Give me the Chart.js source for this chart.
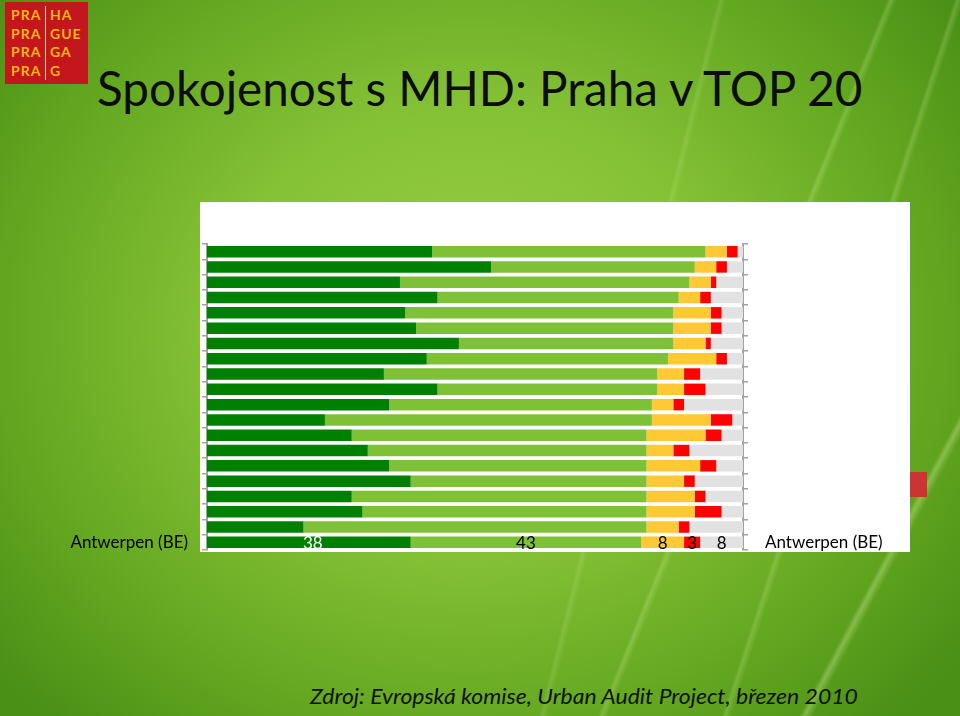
<!DOCTYPE html>
<html>
<head>
<meta charset="utf-8">
<script src="https://cdn.jsdelivr.net/npm/chart.js@4"></script>
<style>
  html, body { margin: 0; padding: 0; }
  body {
    width: 960px; height: 716px; position: relative; overflow: hidden;
    font-family: Lato, sans-serif;
    background:
      linear-gradient(112deg, rgba(255,255,255,0) 71%, rgba(225,255,170,0.22) 71.3%, rgba(255,255,255,0) 71.8%),
      linear-gradient(108deg, rgba(255,255,255,0) 80%, rgba(225,255,170,0.20) 80.3%, rgba(255,255,255,0) 80.8%),
      linear-gradient(118deg, rgba(255,255,255,0) 88%, rgba(235,255,180,0.30) 88.4%, rgba(255,255,255,0) 89%),
      linear-gradient(104deg, rgba(255,255,255,0) 63%, rgba(225,255,170,0.14) 63.3%, rgba(255,255,255,0) 63.8%),
      radial-gradient(ellipse 620px 540px at 470px 330px, #9acd45 0%, #86c236 40%, #62a620 75%, #4a8f16 100%);
  }
  #logo {
    position: absolute; left: 5px; top: 2px; width: 83px; height: 82px;
    background: #c3161d; color: #f8b617;
    font-weight: 700; font-size: 14px; letter-spacing: 1px; line-height: 18.5px;
  }
  #logo .col { position: absolute; top: 4px; }
  #logo .l { left: 6px; }
  #logo .r { left: 40px; padding-left: 4px; border-left: 1px solid #f3d9a0; }
  #title {
    position: absolute; left: 97px; top: 64px; font-size: 48px; line-height: 1;
    color: #0d0d0d; white-space: nowrap; transform-origin: left top;
  }
  #panel {
    position: absolute; left: 200px; top: 202px; width: 710px; height: 350px; background: #fff;
  }
  #deco {
    position: absolute; left: 910px; top: 472px; width: 17px; height: 25px; background: #cc3333;
  }
  #source {
    position: absolute; left: 310px; top: 685px; font-size: 22px; line-height: 1; font-style: italic;
    color: #111; white-space: nowrap; transform-origin: left top;
  }
  #chart { position: absolute; left: 0; top: 0; }
</style>
</head>
<body>
<div id="logo">
  <div class="col l">PRA<br>PRA<br>PRA<br>PRA</div>
  <div class="col r">HA<br>GUE<br>GA<br>G</div>
</div>
<div id="title">Spokojenost s MHD: Praha v TOP 20</div>
<div id="panel"></div>
<div id="deco"></div>
<div id="source">Zdroj: Evropská komise, Urban Audit Project, březen 2010</div>
<canvas id="chart" width="960" height="716"></canvas>
<script>
// only the last city label is legible in the picture
const cities = ["", "", "", "", "", "", "", "", "", "", "", "", "", "", "", "", "", "", "", "Antwerpen (BE)"];
const veryS   = [42, 53, 36, 43, 37, 39, 47, 41, 33, 43, 34, 22, 27, 30, 34, 38, 27, 29, 18, 38];
const ratherS = [51, 38, 54, 45, 50, 48, 40, 45, 51, 41, 49, 61, 55, 52, 48, 44, 55, 53, 64, 43];
const ratherN = [4, 4, 4, 4, 7, 7, 6, 9, 5, 5, 4, 11, 11, 5, 10, 7, 9, 9, 6, 8];
const veryN   = [2, 2, 1, 2, 2, 2, 1, 2, 3, 4, 2, 4, 3, 3, 3, 2, 2, 5, 2, 3];
const noAnswer = [1, 3, 5, 6, 4, 4, 6, 3, 8, 7, 11, 2, 4, 10, 5, 9, 7, 4, 10, 8];
const labelRow = 19;

function fitWidth(id, w) {
    const el = document.getElementById(id);
    el.style.transform = `scaleX(${w / el.offsetWidth})`;
}
fitWidth("title", 765);
fitWidth("source", 548);

const valueLabels = {
    id: 'valueLabels',
    afterDatasetsDraw(chart) {
        const ctx = chart.ctx;
        ctx.save();
        ctx.font = '17px Lato';
        ctx.textAlign = 'center';
        ctx.textBaseline = 'middle';
        chart.data.datasets.forEach((ds, i) => {
            const bar = chart.getDatasetMeta(i).data[labelRow];
            ctx.fillStyle = i === 0 ? '#ffffff' : '#000000';
            ctx.fillText(ds.data[labelRow], (bar.x + bar.base) / 2 + (i === 0 ? 4 : 0), bar.y + 1);
        });
        ctx.restore();
    }
};

const axisGray = '#a3a3a3';

new Chart(document.getElementById('chart').getContext('2d'), {
    type: 'bar',
    data: {
        labels: cities,
        datasets: [
            { label: 'Velmi spokojeni', data: veryS, backgroundColor: '#008000' },
            { label: 'Spíše spokojeni', data: ratherS, backgroundColor: '#7fc136' },
            { label: 'Spíše nespokojeni', data: ratherN, backgroundColor: '#ffc935' },
            { label: 'Velmi nespokojeni', data: veryN, backgroundColor: '#ff0000' },
            { label: 'Neví', data: noAnswer, backgroundColor: '#e2e2e2' }
        ]
    },
    options: {
        indexAxis: 'y',
        responsive: false,
        animation: false,
        barPercentage: 0.75,
        categoryPercentage: 1,
        layout: { padding: { top: 244, bottom: 166, left: 0, right: 0 } },
        plugins: { legend: { display: false }, tooltip: { enabled: false } },
        scales: {
            x: { stacked: true, min: 0, max: 100, display: false },
            y: {
                stacked: true,
                afterFit(scale) { scale.width = 207; },
                grid: { drawOnChartArea: false, tickLength: 5, color: axisGray, lineWidth: 1.5 },
                border: { color: axisGray, width: 2 },
                ticks: { autoSkip: false, padding: 14, color: '#000', font: { family: 'Lato', size: 17 } }
            },
            y2: {
                type: 'category',
                position: 'right',
                offset: true,
                afterFit(scale) { scale.width = 217; },
                grid: { drawOnChartArea: false, tickLength: 5, color: axisGray, lineWidth: 1.5, offset: true },
                border: { color: axisGray, width: 2 },
                ticks: { autoSkip: false, padding: 17, color: '#000', font: { family: 'Lato', size: 17 } }
            }
        }
    },
    plugins: [valueLabels]
});
</script>
</body>
</html>
